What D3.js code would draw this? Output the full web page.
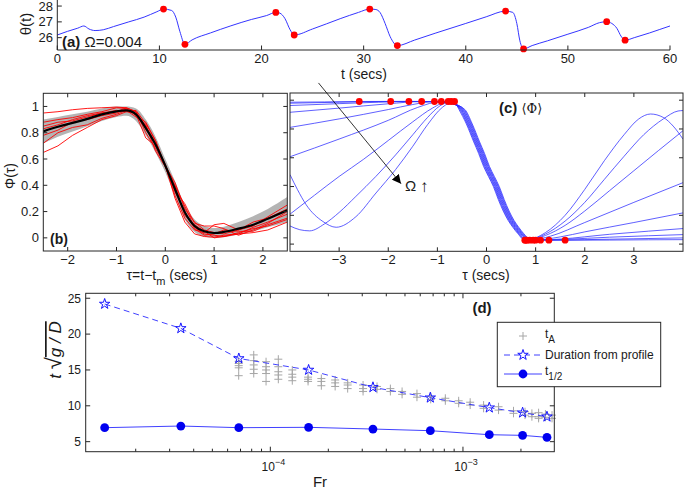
<!DOCTYPE html>
<html><head><meta charset="utf-8">
<script src="https://cdn.jsdelivr.net/npm/d3@7"></script>
<style>
body{margin:0;background:#fff}
svg{display:block}
text{font-family:"Liberation Sans",Arial,Helvetica,sans-serif;fill:#1a1a1a}
</style>
</head><body>
<svg id="fig" width="685" height="492"></svg>
<script>
// ---------------- DATA ----------------
// (a) theta(t)
const aT = [0,1,2,2.6,3.1,3.7,4.5,5.5,7,8.5,9.75,10.4,11.2,11.6,12.0,12.5,13.2,15,17,19,20.5,21.4,21.8,22.3,22.8,23.2,25,27.7,29.5,30.6,31.2,31.6,32.1,32.6,33.3,35,37,40,42,43.9,44.6,45.0,45.3,45.66,46.5,48,50,52,53.1,53.8,54.3,54.8,55.2,55.6,56.5,58,59,60];
const aTheta = [26.17,26.4,26.6,26.74,26.55,26.45,26.5,26.7,27.0,27.3,27.64,27.81,27.72,27.3,26.4,25.58,25.86,26.3,26.75,27.15,27.4,27.6,27.55,27.2,26.5,26.17,26.55,27.2,27.6,27.81,27.78,27.6,26.9,26.06,25.5,25.85,26.28,26.9,27.32,27.68,27.6,26.9,25.8,25.29,25.5,25.8,26.22,26.65,26.95,27.01,26.9,26.59,26.1,25.84,26.0,26.3,26.52,26.74];
const aDotT = [10.4,12.5,21.4,23.2,30.6,33.3,43.9,45.66,53.8,55.6];
const aDotTheta = [27.81,25.58,27.6,26.17,27.81,25.5,27.68,25.29,27.01,25.84];
const aXTicks = [0,10,20,30,40,50,60];
const aYTicks = [26,27,28];

// (b) individual profiles Phi(tau)
const bTau = [-2.5,-2.2,-1.9,-1.6,-1.3,-1.0,-0.8,-0.6,-0.4,-0.2,0,0.2,0.4,0.6,0.8,1.0,1.2,1.5,1.8,2.1,2.5];
const bMean   = [0.81,0.845,0.875,0.905,0.94,0.963,0.97,0.94,0.835,0.71,0.55,0.37,0.195,0.09,0.05,0.037,0.045,0.07,0.1,0.145,0.21];
const bBandLo = [0.72,0.77,0.81,0.85,0.89,0.92,0.93,0.89,0.78,0.65,0.5,0.32,0.14,0.045,0.01,0.0,0.005,0.025,0.05,0.08,0.12];
const bBandHi = [0.90,0.92,0.94,0.96,0.985,1.0,1.0,0.985,0.9,0.77,0.6,0.43,0.25,0.14,0.09,0.075,0.085,0.12,0.165,0.22,0.31];
const bRun1 = [0.95,0.96,0.975,0.985,0.99,0.995,0.99,0.96,0.85,0.72,0.55,0.40,0.24,0.08,0.03,0.02,0.01,0.03,0.08,0.12,0.18];
const bRun2 = [0.88,0.90,0.915,0.94,0.96,0.99,0.985,0.93,0.88,0.74,0.55,0.32,0.15,0.06,0.04,0.10,0.11,0.06,0.09,0.16,0.25];
const bRun3 = [0.83,0.86,0.90,0.93,0.95,0.96,0.99,0.96,0.80,0.68,0.55,0.42,0.22,0.12,0.06,0.04,0.03,0.06,0.12,0.15,0.22];
const bRun4 = [0.78,0.82,0.88,0.90,0.93,0.95,0.98,0.94,0.76,0.70,0.56,0.35,0.20,0.07,0.02,0.03,0.06,0.05,0.05,0.10,0.15];
const bRun5 = [0.72,0.80,0.84,0.86,0.91,0.94,0.97,0.92,0.86,0.66,0.54,0.39,0.17,0.10,0.05,0.0,0.01,0.04,0.07,0.09,0.14];
const bRun6 = [0.65,0.70,0.78,0.84,0.90,0.93,0.96,0.95,0.83,0.71,0.55,0.30,0.12,0.03,0.01,0.005,0.02,0.03,0.04,0.06,0.12];
const bRun7 = [0.85,0.88,0.89,0.92,0.95,0.97,0.96,0.97,0.87,0.74,0.54,0.36,0.26,0.11,0.09,0.09,0.07,0.02,0.06,0.11,0.20];
const bXTicks = [-2,-1,0,1,2];
const bYTicks = [0,0.2,0.4,0.6,0.8,1];

// (c) mean profiles for increasing Omega
const cCore = [[-0.5,0.935],[-0.35,0.835],[-0.2,0.71],[-0.1,0.63],[0,0.54],[0.1,0.47],[0.2,0.4],[0.3,0.31],[0.4,0.23],[0.5,0.165],[0.6,0.115],[0.7,0.072]];
const cShift = [0.06,0.045,0.03,0.015,0.0,-0.015,-0.03,-0.045,-0.06];
const cLeft0 = [[-4,0.986],[-3.3,0.988],[-2.59,0.991],[-1.6,0.992],[-0.9,0.99],[-0.68,0.975]];
const cLeft1 = [[-4,0.979],[-3,0.986],[-1.95,0.991],[-1.2,0.99],[-0.68,0.975]];
const cLeft2 = [[-4,0.963],[-3,0.976],[-2.2,0.986],[-1.58,0.991],[-1.1,0.99],[-0.68,0.975]];
const cLeft3 = [[-4,0.916],[-3,0.945],[-2,0.975],[-1.32,0.991],[-0.9,0.988],[-0.68,0.975]];
const cLeft4 = [[-4,0.811],[-3,0.87],[-2,0.935],[-1.5,0.97],[-1.06,0.991],[-0.7,0.975]];
const cLeft5 = [[-4,0.607],[-3,0.73],[-2,0.86],[-1.4,0.95],[-0.92,0.991],[-0.68,0.975]];
const cLeft6 = [[-4,0.208],[-3.5,0.34],[-3,0.47],[-2.5,0.59],[-2,0.72],[-1.5,0.85],[-1.1,0.945],[-0.78,0.991]];
const cLeft7 = [[-4,0.126],[-3.8,0.1],[-3.6,0.092],[-3.3,0.14],[-3.0,0.22],[-2.66,0.331],[-2.25,0.471],[-1.85,0.62],[-1.5,0.76],[-1.2,0.88],[-0.95,0.96],[-0.72,0.991]];
const cLeft8 = [[-4,0.483],[-3.85,0.38],[-3.67,0.273],[-3.33,0.157],[-3.06,0.117],[-2.66,0.19],[-2.25,0.355],[-1.85,0.518],[-1.5,0.68],[-1.2,0.83],[-0.9,0.95],[-0.65,0.991]];
const cRight0 = [[0.85,0.042],[1.1,0.032],[1.6,0.027],[2.5,0.028],[3.3,0.03],[4,0.031]];
const cRight1 = [[0.85,0.04],[1.0,0.033],[1.27,0.027],[2,0.031],[3,0.037],[4,0.043]];
const cRight2 = [[0.85,0.036],[1.1,0.027],[1.6,0.033],[2.5,0.048],[3.3,0.058],[4,0.066]];
const cRight3 = [[0.85,0.034],[1.0,0.027],[1.5,0.035],[2.5,0.068],[3.3,0.09],[4,0.108]];
const cRight4 = [[0.83,0.032],[0.95,0.027],[1.5,0.05],[2,0.085],[3,0.15],[4,0.217]];
const cRight5 = [[0.88,0.027],[1.3,0.055],[2,0.15],[3,0.29],[4,0.427]];
const cRight6 = [[0.82,0.027],[1.2,0.06],[1.6,0.13],[2,0.23],[2.5,0.37],[3,0.51],[3.5,0.65],[4,0.788]];
const cRight7 = [[0.8,0.027],[1.2,0.07],[1.6,0.16],[2,0.29],[2.4,0.45],[2.8,0.61],[3.2,0.76],[3.6,0.87],[3.9,0.925],[4,0.928]];
const cRight8 = [[0.78,0.027],[1.2,0.08],[1.6,0.2],[2.0,0.38],[2.4,0.58],[2.8,0.76],[3.1,0.87],[3.34,0.904],[3.6,0.88],[3.8,0.82],[4.0,0.73]];
const cMaxTau = [-2.59,-1.95,-1.58,-1.32,-1.06,-0.92,-0.78,-0.72,-0.65];
const cMaxVal = [0.991,0.991,0.991,0.991,0.991,0.991,0.991,0.991,0.991];
const cMinTau = [1.6,1.27,1.1,1.0,0.95,0.88,0.82,0.8,0.78];
const cMinVal = [0.027,0.027,0.027,0.027,0.027,0.027,0.027,0.027,0.027];
const cArrowFrom = [-3.42,1.12];
const cArrowTo = [-1.74,0.42];
const cXTicks = [-3,-2,-1,0,1,2,3];
const cYTicks = [0,0.2,0.4,0.6,0.8,1];

// (d) durations vs Froude number
const dFr = [1.38e-5,3.43e-5,6.86e-5,1.58e-4,3.41e-4,6.77e-4,1.37e-3,2.04e-3,2.73e-3];
const dDuration = [24.2,20.8,16.6,15.0,12.58,11.13,9.74,9.04,8.48];
const dHalf = [6.95,7.18,6.95,7.0,6.76,6.53,5.97,5.88,5.6];
const tAFr = [6.85e-5,8.2e-5,9.5e-5,1.1e-4,1.3e-4,1.57e-4,1.84e-4,2.17e-4,2.52e-4,3.03e-4,3.58e-4,4.2e-4,4.83e-4,5.77e-4,6.8e-4,8.1e-4,9.5e-4,1.09e-3,1.28e-3,1.53e-3,1.83e-3,2.1e-3,2.28e-3,2.47e-3,2.68e-3,2.9e-3];
const tAVal = [[16.2,15.9,15.6,15.3,14.2],[17.1,16.3,15.7,15.1,14.5],[16.15,15.45,15.0,14.5,13.4],[16.5,15.45,14.75,14.3,13.7],[15.0,14.4,14.0,13.5],[14.0,13.7,13.4],[13.8,13.4,12.8],[13.6,13.2,12.7],[13.2,12.9,12.4],[12.9,12.4,12.0],[12.7,12.3],[12.4,12.0],[12.0,11.6],[11.7,11.2],[11.3,10.9],[11.05,10.7],[10.7,10.35],[10.5,10.1],[10.1,9.65],[9.87,9.4],[9.3,8.95],[9.18,8.7],[8.95,8.48],[9.04,8.48,8.25],[8.85,8.4],[8.7,8.25]];
const dYTicks = [5,10,15,20,25];
const dXMajor = [1e-4,1e-3];
const dXMajorLabel = ["−4","−3"];

// ---------------- DRAWING ----------------
const svg = d3.select('#fig');
const AX = '#262626';
const BLUE = '#2b2bff';
const RED = '#ff0000';

function vline(g,x,y1,y2,w){g.append('line').attr('x1',x).attr('x2',x).attr('y1',y1).attr('y2',y2).attr('stroke',AX).attr('stroke-width',w||1);}
function hline(g,y,x1,x2,w){g.append('line').attr('x1',x1).attr('x2',x2).attr('y1',y).attr('y2',y).attr('stroke',AX).attr('stroke-width',w||1);}
function clip(id,x0,y0,x1,y1){svg.append('clipPath').attr('id',id).append('rect').attr('x',x0).attr('y',y0).attr('width',x1-x0).attr('height',y1-y0);}

// ===== Panel (a) =====
{
  const x = d3.scaleLinear().domain([0,60]).range([57.3,670]);
  const y = d3.scaleLinear().domain([25.22,28.32]).range([50,1]);
  const g = svg.append('g');
  const pts = aT.map((t,i)=>[t,aTheta[i]]);
  g.append('path').datum(pts).attr('fill','none').attr('stroke','#3535ff').attr('stroke-width',1)
   .attr('d',d3.line().x(d=>x(d[0])).y(d=>y(d[1])).curve(d3.curveMonotoneX));
  g.selectAll('circle.ad').data(aDotT).enter().append('circle')
   .attr('cx',(d)=>x(d)).attr('cy',(d,i)=>y(aDotTheta[i])).attr('r',3.4).attr('fill',RED);
  vline(g,x(0),0,50); hline(g,50,x(0),x(60));
  aXTicks.forEach(t=>{ vline(g,x(t),50,45.5);
    g.append('text').attr('x',x(t)).attr('y',63).attr('text-anchor','middle').attr('font-size',13).text(t); });
  aYTicks.forEach(v=>{ hline(g,y(v),x(0),x(0)+4.5);
    g.append('text').attr('x',53).attr('y',y(v)+4.5).attr('text-anchor','end').attr('font-size',13).text(v); });
  g.append('text').attr('x',364).attr('y',79).attr('text-anchor','middle').attr('font-size',14).text('t (secs)');
  g.append('text').attr('transform','translate(31,24) rotate(-90)').attr('text-anchor','middle').attr('font-size',15).text('θ(t)');
  const ann = g.append('text').attr('x',62).attr('y',47).attr('font-size',15);
  ann.append('tspan').attr('font-weight','bold').text('(a)');
  ann.append('tspan').text(' Ω=0.004');
}

// ===== Panel (b) =====
{
  const L=43.3,R=287.3,T=93.3,B=251;
  const x = d3.scaleLinear().domain([-2.5,2.5]).range([L,R]);
  const y = d3.scaleLinear().domain([-0.1,1.1]).range([B,T]);
  clip('clipb',L,T,R,B);
  const g = svg.append('g');
  const pg = g.append('g').attr('clip-path','url(#clipb)');
  pg.append('path').datum(bTau.map((t,i)=>[t,bBandLo[i],bBandHi[i]])).attr('fill','#b4b4b4')
    .attr('d',d3.area().x(d=>x(d[0])).y0(d=>y(d[1])).y1(d=>y(d[2])).curve(d3.curveMonotoneX));
  [bRun1,bRun2,bRun3,bRun4,bRun5,bRun6,bRun7].forEach(run=>{
    pg.append('path').datum(bTau.map((t,i)=>[t,run[i]])).attr('fill','none').attr('stroke',RED).attr('stroke-width',0.9)
      .attr('d',d3.line().x(d=>x(d[0])).y(d=>y(d[1])).curve(d3.curveLinear));
  });
  pg.append('path').datum(bTau.map((t,i)=>[t,bMean[i]])).attr('fill','none').attr('stroke','#000').attr('stroke-width',2.2)
    .attr('d',d3.line().x(d=>x(d[0])).y(d=>y(d[1])).curve(d3.curveMonotoneX));
  g.append('rect').attr('x',L).attr('y',T).attr('width',R-L).attr('height',B-T).attr('fill','none').attr('stroke',AX).attr('stroke-width',1);
  bXTicks.forEach(t=>{ vline(g,x(t),B,B-4); vline(g,x(t),T,T+4);
    g.append('text').attr('x',x(t)).attr('y',264).attr('text-anchor','middle').attr('font-size',13).text(t<0?'−'+Math.abs(t):t); });
  bYTicks.forEach(v=>{ hline(g,y(v),L,L+4); hline(g,y(v),R,R-4);
    g.append('text').attr('x',39).attr('y',y(v)+4.5).attr('text-anchor','end').attr('font-size',13).text(v); });
  const xl = g.append('text').attr('x',167).attr('y',280).attr('text-anchor','middle').attr('font-size',14);
  xl.append('tspan').text('τ=t−t');
  xl.append('tspan').attr('dy',5).attr('font-size',11).text('m');
  xl.append('tspan').attr('dy',-5).text(' (secs)');
  g.append('text').attr('transform','translate(15,176) rotate(-90)').attr('text-anchor','middle').attr('font-size',14).text('Φ(τ)');
  g.append('text').attr('x',50).attr('y',244).attr('font-size',14).attr('font-weight','bold').text('(b)');
}

// ===== Panel (c) =====
{
  const L=290,R=683,T=93,B=251.3;
  const x = d3.scaleLinear().domain([-4,4]).range([L,R]);
  const y = d3.scaleLinear().domain([-0.05,1.05]).range([B,T]);
  clip('clipc',L,T,R,B);
  const g = svg.append('g');
  const pg = g.append('g').attr('clip-path','url(#clipc)');
  const lefts=[cLeft0,cLeft1,cLeft2,cLeft3,cLeft4,cLeft5,cLeft6,cLeft7,cLeft8];
  const rights=[cRight0,cRight1,cRight2,cRight3,cRight4,cRight5,cRight6,cRight7,cRight8];
  lefts.forEach((lf,i)=>{
    const pts = lf.concat(cCore.map(p=>[p[0]+cShift[i],p[1]]), rights[i]);
    pg.append('path').datum(pts).attr('fill','none').attr('stroke',BLUE).attr('stroke-width',0.75)
      .attr('d',d3.line().x(d=>x(d[0])).y(d=>y(d[1])).curve(d3.curveMonotoneX));
  });
  g.selectAll('circle.mx').data(cMaxTau).enter().append('circle')
    .attr('cx',d=>x(d)).attr('cy',(d,i)=>y(cMaxVal[i])).attr('r',3.4).attr('fill',RED);
  g.selectAll('circle.mn').data(cMinTau).enter().append('circle')
    .attr('cx',d=>x(d)).attr('cy',(d,i)=>y(cMinVal[i])).attr('r',3.4).attr('fill',RED);
  g.append('rect').attr('x',L).attr('y',T).attr('width',R-L).attr('height',B-T).attr('fill','none').attr('stroke',AX).attr('stroke-width',1);
  cXTicks.forEach(t=>{ vline(g,x(t),B,B-4); vline(g,x(t),T,T+4);
    g.append('text').attr('x',x(t)).attr('y',264).attr('text-anchor','middle').attr('font-size',13).text(t<0?'−'+Math.abs(t):t); });
  cYTicks.forEach(v=>{ hline(g,y(v),L,L+4); hline(g,y(v),R,R-4); });
  g.append('text').attr('x',486).attr('y',280).attr('text-anchor','middle').attr('font-size',14).text('τ (secs)');
  // arrow
  const defs = svg.append('defs');
  defs.append('marker').attr('id','ah').attr('viewBox','0 0 10 10').attr('refX',10).attr('refY',5)
    .attr('markerWidth',9).attr('markerHeight',9).attr('markerUnits','userSpaceOnUse').attr('orient','auto')
    .append('path').attr('d','M0,0L10,5L0,10Z').attr('fill','#000');
  g.append('line').attr('x1',x(cArrowFrom[0])).attr('y1',y(cArrowFrom[1])).attr('x2',x(cArrowTo[0])).attr('y2',y(cArrowTo[1]))
    .attr('stroke','#000').attr('stroke-width',0.8).attr('marker-end','url(#ah)');
  g.append('text').attr('x',405).attr('y',191).attr('font-family','Liberation Serif,serif').attr('font-size',15).text('Ω');
  g.append('text').attr('x',420).attr('y',192).attr('font-family','DejaVu Sans,sans-serif').attr('font-size',17).text('↑');
  const ct = g.append('text').attr('x',499).attr('y',113).attr('font-size',15);
  ct.append('tspan').attr('font-weight','bold').text('(c)');
  ct.append('tspan').attr('font-family','DejaVu Serif,serif').attr('font-size',13).text(' ⟨Φ⟩');
}

// ===== Panel (d) =====
{
  const L=85.7,R=554.3,T=293.3,B=451.7;
  const x = d3.scaleLog().domain([1.1e-5,2.98e-3]).range([L,R]);
  const y = d3.scaleLinear().domain([3.6,25.69]).range([B,T]);
  const g = svg.append('g');
  // t_A crosses
  tAFr.forEach((f,i)=>{
    tAVal[i].forEach(v=>{
      g.append('path').attr('transform',`translate(${x(f)},${y(v)})`).attr('d','M-4,0H4M0,-4V4')
        .attr('stroke','#a6a6a6').attr('stroke-width',1).attr('fill','none');
    });
  });
  const line = d3.line().x(d=>x(d[0])).y(d=>y(d[1]));
  g.append('path').datum(dFr.map((f,i)=>[f,dDuration[i]])).attr('fill','none').attr('stroke',BLUE).attr('stroke-width',0.9)
    .attr('stroke-dasharray','6,4').attr('d',line);
  g.append('path').datum(dFr.map((f,i)=>[f,dHalf[i]])).attr('fill','none').attr('stroke',BLUE).attr('stroke-width',0.9).attr('d',line);
  const star = d3.symbol().type(d3.symbolStar).size(34);
  dFr.forEach((f,i)=>{
    g.append('path').attr('transform',`translate(${x(f)},${y(dDuration[i])})`).attr('d',star)
      .attr('fill','none').attr('stroke','#1515ff').attr('stroke-width',1);
    g.append('circle').attr('cx',x(f)).attr('cy',y(dHalf[i])).attr('r',4.4).attr('fill','#0000f0');
  });
  g.append('rect').attr('x',L).attr('y',T).attr('width',R-L).attr('height',B-T).attr('fill','none').attr('stroke',AX).attr('stroke-width',1);
  dYTicks.forEach(v=>{ hline(g,y(v),L,L+4.5); hline(g,y(v),R,R-4.5);
    g.append('text').attr('x',81).attr('y',y(v)+4.3).attr('text-anchor','end').attr('font-size',12).text(v); });
  for(let k=-5;k<=-3;k++){
    for(let m=1;m<=9;m++){
      const v=m*Math.pow(10,k);
      if(v<1.1e-5||v>2.98e-3) continue;
      const len = m===1?5:3;
      vline(g,x(v),B,B-len); vline(g,x(v),T,T+len);
    }
  }
  dXMajor.forEach((v,i)=>{
    const t = g.append('text').attr('x',x(v)+3).attr('y',471).attr('text-anchor','middle').attr('font-size',12);
    t.append('tspan').text('10');
    t.append('tspan').attr('dy',-6).attr('font-size',9).text(dXMajorLabel[i]);
  });
  g.append('text').attr('x',320).attr('y',487).attr('text-anchor','middle').attr('font-size',15).text('Fr');
  const yl = g.append('text').attr('transform','translate(61,350) rotate(-90)').attr('text-anchor','middle')
    .attr('font-family','Liberation Serif,serif').attr('font-size',17);
  yl.append('tspan').attr('font-style','italic').text('t ');
  yl.append('tspan').attr('font-size',22).text('√');
  yl.append('tspan').attr('font-style','italic').attr('text-decoration','overline').text('g / D');
  g.append('text').attr('x',482).attr('y',313).attr('text-anchor','middle').attr('font-size',15).attr('font-weight','bold').text('(d)');
  // legend
  const lg = g.append('g');
  lg.append('rect').attr('x',497.3).attr('y',322.3).attr('width',163.4).attr('height',64.4).attr('fill','#fff').attr('stroke',AX).attr('stroke-width',1);
  lg.append('path').attr('transform','translate(523,336)').attr('d','M-4,0H4M0,-4V4').attr('stroke','#a6a6a6').attr('stroke-width',1);
  const tA = lg.append('text').attr('x',545).attr('y',338).attr('font-size',12);
  tA.append('tspan').text('t'); tA.append('tspan').attr('dy',5).attr('font-size',10).text('A');
  lg.append('line').attr('x1',504).attr('x2',542).attr('y1',355).attr('y2',355).attr('stroke',BLUE).attr('stroke-dasharray','6,4').attr('stroke-width',0.9);
  lg.append('path').attr('transform','translate(523,355)').attr('d',star).attr('fill','#fff').attr('stroke','#1515ff').attr('stroke-width',1);
  lg.append('text').attr('x',545).attr('y',359).attr('font-size',12).text('Duration from profile');
  lg.append('line').attr('x1',504).attr('x2',542).attr('y1',374).attr('y2',374).attr('stroke',BLUE).attr('stroke-width',0.9);
  lg.append('circle').attr('cx',523).attr('cy',374).attr('r',4.4).attr('fill','#0000f0');
  const th = lg.append('text').attr('x',545).attr('y',375).attr('font-size',12);
  th.append('tspan').text('t'); th.append('tspan').attr('dy',5).attr('font-size',10).text('1/2');
}
</script>
</body></html>
